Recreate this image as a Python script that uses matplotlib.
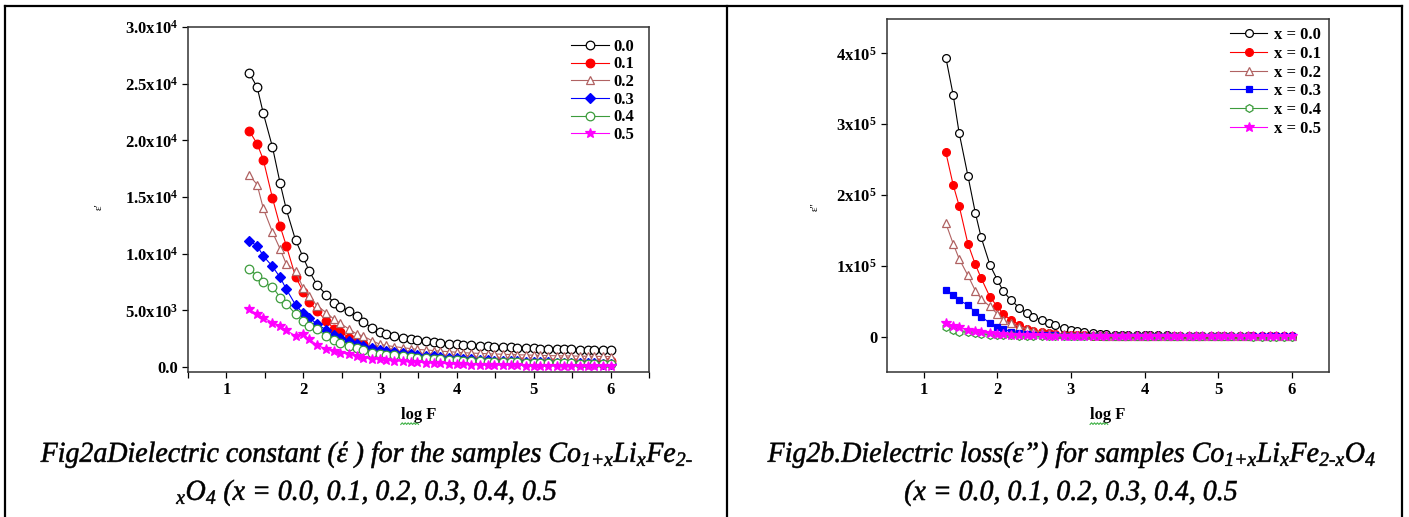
import numpy as np
import matplotlib.pyplot as plt
from matplotlib.lines import Line2D
from matplotlib.patches import PathPatch
from matplotlib.textpath import TextPath
from matplotlib.font_manager import FontProperties
from matplotlib.transforms import Affine2D, IdentityTransform
from matplotlib.ticker import FixedLocator, FixedFormatter

plt.rcParams['font.family'] = ['Liberation Serif', 'DejaVu Serif']
plt.rcParams['mathtext.fontset'] = 'custom'
plt.rcParams['mathtext.default'] = 'regular'
plt.rcParams['mathtext.rm'] = 'Liberation Serif:italic'

# log of frequency (Hz)
log_f = [1.30, 1.40, 1.48, 1.60, 1.70, 1.78, 1.90, 2.00,
         2.08, 2.18, 2.30, 2.40, 2.48, 2.60, 2.70, 2.78,
         2.90, 3.00, 3.08, 3.18, 3.30, 3.40, 3.48, 3.60,
         3.70, 3.78, 3.90, 4.00, 4.08, 4.18, 4.30, 4.40,
         4.48, 4.60, 4.70, 4.78, 4.90, 5.00, 5.08, 5.18,
         5.30, 5.40, 5.48, 5.60, 5.70, 5.78, 5.90, 6.00]

# dielectric constant eps'
eps1_00 = [25900, 24700, 22400, 19400, 16200, 13900, 11200, 9670,
           8430, 7250, 6370, 5690, 5300, 4950, 4500, 4000,
           3420, 3120, 2890, 2740, 2530, 2480, 2400, 2300,
           2200, 2150, 2050, 2000, 1950, 1900, 1850, 1820,
           1800, 1760, 1730, 1700, 1680, 1650, 1630, 1610,
           1590, 1570, 1560, 1540, 1530, 1520, 1500, 1480]
eps1_01 = [20800, 19700, 18300, 14900, 12400, 10700, 7960, 6660,
           5720, 4950, 4070, 3390, 3120, 2600, 2300, 2060,
           1710, 1560, 1450, 1350, 1250, 1150, 1080, 1000,
           950, 900, 860, 820, 790, 760, 730, 700,
           680, 660, 640, 620, 600, 590, 575, 560,
           550, 540, 530, 520, 510, 500, 495, 490]
eps1_02 = [16900, 16100, 14000, 11900, 10400, 9080, 8490, 6950,
           6280, 5390, 4800, 4210, 3860, 3330, 2890, 2740,
           2300, 2000, 1900, 1800, 1700, 1620, 1560, 1500,
           1450, 1400, 1350, 1300, 1260, 1230, 1200, 1170,
           1150, 1120, 1100, 1080, 1060, 1040, 1020, 1010,
           990, 980, 970, 960, 950, 940, 930, 920]
eps1_03 = [11100, 10700, 9800, 8870, 7900, 6870, 5480, 4740,
           4360, 3770, 3270, 2830, 2590, 2300, 2060, 1860,
           1650, 1470, 1380, 1300, 1200, 1120, 1060, 990,
           930, 880, 820, 770, 720, 680, 640, 600,
           570, 540, 510, 490, 460, 440, 420, 400,
           380, 360, 350, 330, 320, 310, 300, 290]
eps1_04 = [8630, 8050, 7460, 7070, 6130, 5600, 4660, 4070,
           3620, 3330, 2740, 2360, 2150, 1860, 1650, 1500,
           1270, 1180, 1100, 1020, 950, 880, 830, 770,
           720, 680, 640, 600, 570, 540, 510, 480,
           460, 440, 420, 400, 380, 370, 355, 340,
           330, 320, 310, 300, 290, 280, 270, 260]
eps1_05 = [5100, 4660, 4360, 3920, 3620, 3240, 2740, 2890,
           2450, 1950, 1560, 1410, 1270, 1120, 970, 830,
           740, 680, 620, 560, 500, 450, 420, 380,
           350, 320, 290, 260, 240, 220, 200, 185,
           170, 160, 150, 140, 130, 120, 110, 105,
           100, 95, 90, 85, 80, 75, 70, 65]

# dielectric loss eps''
eps2_00 = [394000, 341000, 288000, 227000, 175000, 140000, 101000, 80000,
           64000, 52000, 40500, 33000, 28000, 23500, 19300, 16500,
           11800, 9400, 8500, 6100, 4700, 3800, 3500, 2800,
           2500, 2300, 2100, 1900, 1800, 1700, 1600, 1500,
           1450, 1400, 1350, 1300, 1250, 1200, 1180, 1150,
           1120, 1100, 1080, 1060, 1040, 1020, 1010, 1000]
eps2_01 = [260000, 214000, 185000, 131000, 102000, 82500, 55700, 42500,
           32000, 23600, 16500, 10800, 8500, 6100, 4700, 3800,
           2800, 2400, 2100, 1800, 1500, 1300, 1150, 1000,
           900, 820, 740, 680, 630, 580, 540, 500,
           470, 440, 410, 390, 370, 350, 335, 320,
           305, 290, 280, 270, 260, 250, 240, 230]
eps2_02 = [160000, 131000, 110000, 86300, 65000, 53300, 42500, 32000,
           23600, 18900, 14200, 10800, 8500, 6600, 5200, 4200,
           3300, 2800, 2400, 2100, 1800, 1600, 1450, 1300,
           1180, 1080, 980, 900, 840, 780, 720, 670,
           630, 590, 560, 530, 500, 480, 460, 440,
           420, 400, 390, 375, 360, 350, 340, 330]
eps2_03 = [66000, 59000, 51000, 44800, 34400, 28300, 18900, 13200,
           10800, 7100, 5200, 3800, 2800, 2400, 2000, 1700,
           1400, 1200, 1050, 930, 820, 740, 680, 610,
           560, 520, 480, 440, 410, 380, 350, 330,
           310, 290, 270, 255, 240, 225, 215, 205,
           195, 185, 178, 170, 162, 155, 148, 140]
eps2_04 = [14200, 9400, 7100, 6100, 4700, 3800, 2800, 2400,
           2000, 1700, 1400, 1200, 1050, 900, 800, 720,
           640, 580, 530, 480, 440, 400, 370, 340,
           310, 290, 270, 250, 235, 220, 205, 190,
           180, 170, 160, 150, 142, 135, 128, 122,
           116, 110, 105, 100, 95, 90, 86, 82]
eps2_05 = [18900, 15600, 13200, 9400, 8500, 6100, 4700, 3800,
           3300, 2800, 2300, 2000, 1800, 1550, 1350, 1200,
           1050, 950, 860, 780, 700, 640, 590, 540,
           500, 460, 420, 390, 360, 335, 310, 290,
           270, 250, 235, 220, 205, 190, 180, 170,
           160, 150, 142, 135, 128, 121, 115, 110]

compositions = ['0.0', '0.1', '0.2', '0.3', '0.4', '0.5']
labels_b = ['x = 0.0', 'x = 0.1', 'x = 0.2', 'x = 0.3', 'x = 0.4', 'x = 0.5']
colors = ['black', '#ff0000', '#b06262', '#0000ff', '#3c9c3c', '#ff00ff']
filled = [False, True, False, True, False, True]
markers_a = ['o', 'o', '^', 'D', 'o', '*']
markers_b = ['o', 'o', '^', 's', 'h', '*']

yticks_a = [0, 5000, 10000, 15000, 20000, 25000, 30000]
ylabels_a = ['0.0', '5.0x10$^3$', '1.0x10$^4$', '1.5x10$^4$', '2.0x10$^4$',
             '2.5x10$^4$', '3.0x10$^4$']
yticks_b = [0, 100000, 200000, 300000, 400000]
ylabels_b = ['0', '1x10$^5$', '2x10$^5$', '3x10$^5$', '4x10$^5$']
xticks = [1, 2, 3, 4, 5, 6]

caption_a = ['Fig2aDielectric constant (έ ) for the samples Co$_\\text{1+x}$Li$_\\text{x}$Fe$_\\text{2-}$',
             '$_\\text{x}$O$_\\text{4}$ (x = 0.0, 0.1, 0.2, 0.3, 0.4, 0.5']
caption_b = ['Fig2b.Dielectric loss(ε\u201d) for samples Co$_\\text{1+x}$Li$_\\text{x}$Fe$_\\text{2-x}$O$_\\text{4}$',
             '(x = 0.0, 0.1, 0.2, 0.3, 0.4, 0.5']

W, H = 1409, 517
fig = plt.figure(figsize=(W / 100, H / 100), dpi=100)

ax1 = fig.add_axes([0.1334, 0.2805, 0.3272, 0.6673])
ax2 = fig.add_axes([0.6295, 0.2805, 0.3134, 0.6828])

series_a = [eps1_00, eps1_01, eps1_02, eps1_03, eps1_04, eps1_05]
series_b = [eps2_00, eps2_01, eps2_02, eps2_03, eps2_04, eps2_05]

for i in range(6):
    fc = colors[i] if filled[i] else 'white'
    ms = 6.2 if markers_a[i] != 'D' else 4.8
    if markers_a[i] == '*':
        ms = 7
    ax1.plot(log_f, series_a[i], color=colors[i], lw=0.8, marker=markers_a[i],
             ms=ms, mfc=fc, mec=colors[i], mew=0.9, label=compositions[i])
    ms = 5.6 if markers_b[i] != 's' else 4.8
    if markers_b[i] == '*':
        ms = 7
    ax2.plot(log_f, series_b[i], color=colors[i], lw=0.8, marker=markers_b[i],
             ms=ms, mfc=fc, mec=colors[i], mew=0.9, label=labels_b[i])

ax1.set_xlim(0.5, 6.5)
ax1.set_ylim(-440, 30000)
ax1.xaxis.set_major_locator(FixedLocator(xticks))
ax1.xaxis.set_minor_locator(FixedLocator([0.5, 1.5, 2.5, 3.5, 4.5, 5.5, 6.5]))
ax1.yaxis.set_major_locator(FixedLocator(yticks_a))
ax1.yaxis.set_major_formatter(FixedFormatter(ylabels_a))
ax1.set_ylabel("ε'", fontsize=8, labelpad=0)
ax1.yaxis.set_label_coords(-0.182, 0.478)

ax2.set_xlim(0.5, 6.5)
ax2.set_ylim(-50000, 448500)
ax2.xaxis.set_major_locator(FixedLocator(xticks))
ax2.yaxis.set_major_locator(FixedLocator(yticks_b))
ax2.yaxis.set_major_formatter(FixedFormatter(ylabels_b))
ax2.set_ylabel("ε''", fontsize=8, labelpad=0)
ax2.yaxis.set_label_coords(-0.152, 0.467)

for ax in (ax1, ax2):
    ax.tick_params(which='both', direction='out', length=4, width=0.9, pad=3)
    for lab in ax.get_xticklabels() + ax.get_yticklabels():
        lab.set_fontweight('bold')
        lab.set_fontsize(12)
    for sp in ax.spines.values():
        sp.set_linewidth(1.1)
        sp.set_color('#333333')
    ax.set_xlabel('log F', fontsize=12, fontweight='bold', labelpad=7)

ax1.legend(loc='upper right', frameon=False, prop={'weight': 'bold', 'size': 12},
           handlelength=2.3, handletextpad=0.25, labelspacing=0.1,
           borderaxespad=0.2, bbox_to_anchor=(0.99, 0.995))
ax2.legend(loc='upper right', frameon=False, prop={'weight': 'bold', 'size': 12},
           handlelength=2.2, handletextpad=0.4, labelspacing=0.16,
           borderaxespad=0.2, bbox_to_anchor=(1.005, 1.005))

# table frame around the two figures
frame = dict(color='black', lw=1.6)
fig.add_artist(Line2D([5 / W, 1402 / W], [1 - 6 / H, 1 - 6 / H], **frame))
for xl in (5, 727, 1402):
    fig.add_artist(Line2D([xl / W, xl / W], [0, 1 - 6 / H], **frame))

cap_prop = FontProperties(family='Liberation Serif', style='italic')
cap_paths = {key: [TextPath((0, 0), s, size=29, prop=cap_prop) for s in lines]
             for key, lines in (('a', caption_a), ('b', caption_b))}
# one horizontal squeeze for all caption lines, set by the first line of Fig2b
sx = 607 / cap_paths['b'][0].get_extents().width

for key, xc in (('a', 366), ('b', 1071)):
    for p, yb in zip(cap_paths[key], (H - 462, H - 500)):
        ext = p.get_extents()
        w = ext.width * sx
        tr = Affine2D().translate(-ext.x0, 0).scale(sx, 1).translate(xc - w / 2, yb)
        fig.add_artist(PathPatch(p, transform=tr + IdentityTransform(),
                                 fc='black', ec='black', lw=0.4))

# spell-check squiggles under "log"
fig.canvas.draw()
for ax in (ax1, ax2):
    bb = ax.xaxis.label.get_window_extent()
    xs = bb.x0 + np.linspace(0, bb.width * 0.5, 13)
    ys = bb.y0 + np.array([0, 1.6] * 6 + [0]) - 1
    fig.add_artist(Line2D(xs, ys, color='#3cb043', lw=0.8,
                          transform=IdentityTransform()))

fig.savefig('out.png', dpi=100)
